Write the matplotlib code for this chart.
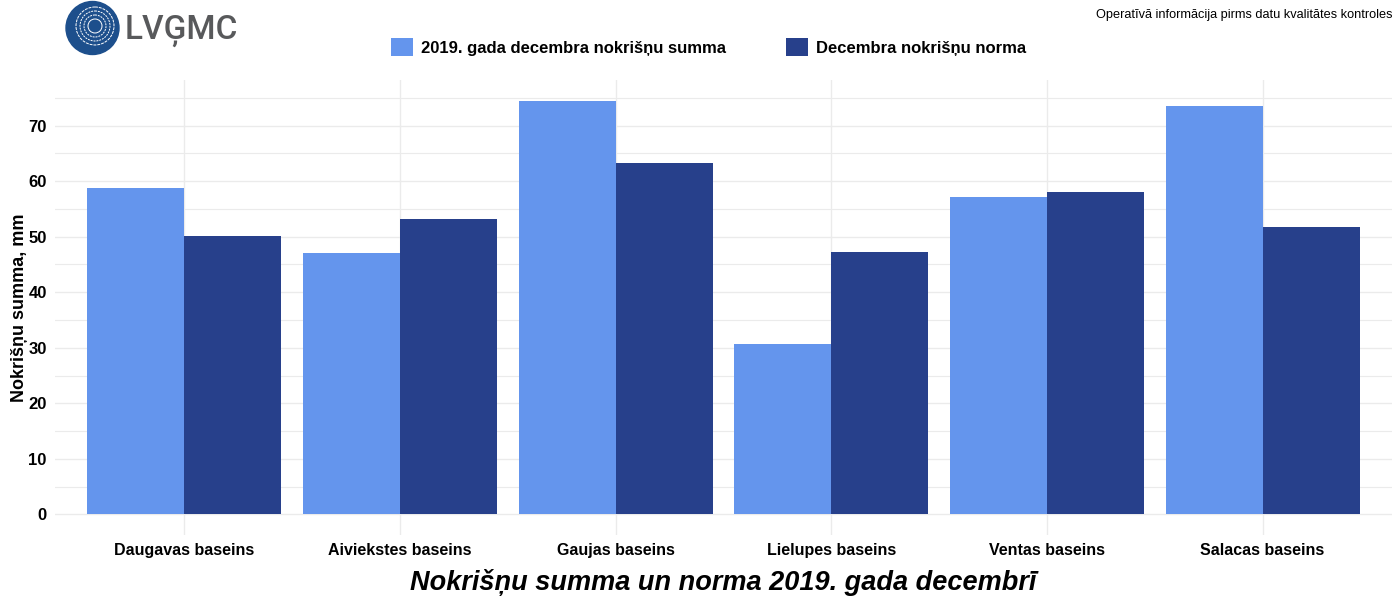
import matplotlib
matplotlib.use("Agg")
import matplotlib.pyplot as plt
from matplotlib.patches import Circle, Patch
from matplotlib.ticker import MultipleLocator
import numpy as np

plt.rcParams['font.family'] = ['Liberation Sans', 'DejaVu Sans']

categories = ["Daugavas baseins", "Aiviekstes baseins", "Gaujas baseins",
              "Lielupes baseins", "Ventas baseins", "Salacas baseins"]
summa_2019 = [58.7, 47.0, 74.5, 30.6, 57.2, 73.6]
norma = [50.2, 53.1, 63.2, 47.3, 58.1, 51.8]
series_labels = ["2019. gada decembra nokrišņu summa", "Decembra nokrišņu norma"]
colors = ["#6495ED", "#27408B"]

W, H = 1400, 600
fig = plt.figure(figsize=(14, 6), dpi=100)
ax = fig.add_axes([55 / W, 1 - 535 / H, (1392 - 55) / W, (535 - 80) / H])

x = np.arange(len(categories))
bw = 0.45
ax.bar(x - bw / 2, summa_2019, width=bw, color=colors[0], zorder=2)
ax.bar(x + bw / 2, norma, width=bw, color=colors[1], zorder=2)

ymax = max(max(summa_2019), max(norma))
ax.set_ylim(-0.05 * ymax, 1.05 * ymax)
ax.set_xlim(-0.6, len(categories) - 0.4)
ax.yaxis.set_major_locator(MultipleLocator(10))
ax.yaxis.set_minor_locator(MultipleLocator(5))
ax.set_yticks([0, 10, 20, 30, 40, 50, 60, 70])
ax.set_xticks(x)
ax.set_xticklabels(categories, fontsize=11.5, fontweight='bold', va='baseline')
for lab in ax.get_yticklabels():
    lab.set_fontweight('bold')
    lab.set_fontsize(12)
ax.tick_params(axis='both', which='both', length=0)
ax.tick_params(axis='x', pad=14.4)
ax.tick_params(axis='y', pad=6)
ax.grid(True, which='major', color='#ebebeb', linewidth=1.0, zorder=0)
ax.grid(True, which='minor', axis='y', color='#ebebeb', linewidth=0.8, zorder=0)
for s in ax.spines.values():
    s.set_visible(False)
ax.set_ylabel("Nokrišņu summa, mm", fontsize=13, fontweight='bold', labelpad=0)
ax.set_xlabel("Nokrišņu summa un norma 2019. gada decembrī", fontsize=19.5,
              fontweight='bold', fontstyle='italic', labelpad=8)

handles = [Patch(facecolor=c, edgecolor='none') for c in colors]
fig.legend(handles, series_labels, loc='center', bbox_to_anchor=(709 / W, 1 - 47 / H),
           ncol=2, frameon=False, prop={'weight': 'bold', 'size': 12},
           handlelength=1.3, handleheight=1.3, handletextpad=0.5, columnspacing=3.6)

fig.text(1392 / W, 1 - 15 / H, "Operatīvā informācija pirms datu kvalitātes kontroles",
         ha='right', va='center', fontsize=9.2)

# logo
lax = fig.add_axes([0, 1 - 60 / H, 260 / W, 60 / H])
lax.set_xlim(0, 260)
lax.set_ylim(60, 0)
lax.set_aspect('equal')
lax.axis('off')
lax.add_patch(Circle((92.5, 28), 26.5, color='#1d4f8c'))
for r, ls in [(19, (0, (3, 1))), (15, (0, (2, 1))), (11, (0, (2, 1))), (7, '-')]:
    lax.add_patch(Circle((95, 26), r, fill=False, edgecolor='white', linewidth=0.7, linestyle=ls))
lax.text(125, 31, "LVĢMC", ha='left', va='center', fontsize=24, color='#58595b',
         family=['Roboto', 'DejaVu Sans'], fontweight='medium')

fig.savefig("out.png", dpi=100, facecolor='white')
